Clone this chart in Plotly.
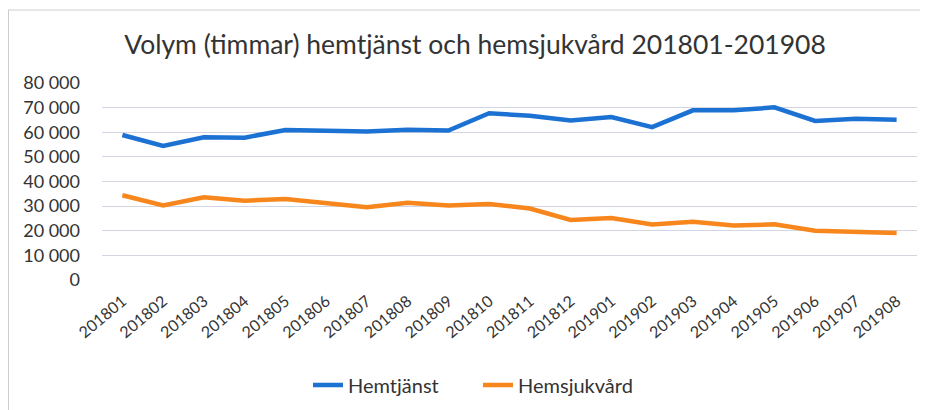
import plotly.graph_objects as go

months = ["201801", "201802", "201803", "201804", "201805", "201806", "201807",
          "201808", "201809", "201810", "201811", "201812", "201901", "201902",
          "201903", "201904", "201905", "201906", "201907", "201908"]
hemtjanst = [58900, 54400, 58000, 57800, 60900, 60400, 60300, 61000, 60700, 67700,
             66700, 64800, 66200, 62100, 68900, 68900, 70100, 64600, 65500, 65100]
hemsjukvard = [34400, 30300, 33600, 32200, 32900, 31400, 29500, 31400, 30300, 30900,
               29000, 24400, 25200, 22500, 23700, 22100, 22600, 20000, 19500, 19100]
y_ticks = [0, 10000, 20000, 30000, 40000, 50000, 60000, 70000, 80000]

FONT = "Lato, 'Open Sans', sans-serif"
TXT = "#333333"
# the page body has an 8px margin, so the figure is drawn 8px smaller and shifted
W, H = 920, 402
L, T, R, B = 94, 75, 11, 130
PW, PH = W - L - R, H - T - B

fig = go.Figure()
fig.add_trace(go.Scatter(x=months, y=hemtjanst, mode="lines", name="Hemtjänst",
                         line=dict(color="#1B72D2", width=4.5)))
fig.add_trace(go.Scatter(x=months, y=hemsjukvard, mode="lines", name="Hemsjukvård",
                         line=dict(color="#F7861C", width=4.5)))

fig.update_layout(
    width=W, height=H,
    margin=dict(l=L, r=R, t=T, b=B, autoexpand=False),
    paper_bgcolor="white", plot_bgcolor="white",
    separators=", ",
    title=dict(text="Volym (timmar) hemtjänst och hemsjukvård 201801-201908",
               x=467 / W, xanchor="center", xref="container", y=1 - 37 / H, yanchor="middle",
               font=dict(family=FONT, size=26.5, color=TXT)),
    font=dict(family=FONT, color=TXT),
    showlegend=True,
    legend=dict(orientation="h", x=(300 - L) / PW, xanchor="left",
                y=-105 / PH, yanchor="middle", entrywidth=125,
                font=dict(family=FONT, size=20, color=TXT),
                traceorder="normal"),
    xaxis=dict(type="category", range=[-0.5, 19.5], tickangle=-40, automargin=False,
               showgrid=False, showline=False, zeroline=False,
               tickfont=dict(family=FONT, size=16, color=TXT), ticks="",
               ticklabelstandoff=8),
    yaxis=dict(range=[0, 80000], tickvals=y_ticks, tickformat=",d", automargin=False,
               showgrid=True, gridcolor="#D3D6E2", gridwidth=1, zeroline=False,
               showline=False, ticks="", ticklabelstandoff=21,
               tickfont=dict(family=FONT, size=18, color=TXT)),
    shapes=[dict(type="line", xref="paper", yref="paper", x0=-L / PW, x1=-L / PW,
                 y0=-140 / PH, y1=1 + 73 / PH, line=dict(color="#BDBDBD", width=1.5)),
            dict(type="line", xref="paper", yref="paper", x0=-L / PW, x1=1.02,
                 y0=1 + 73 / PH, y1=1 + 73 / PH, line=dict(color="#D0D0D0", width=1.2))],
)

fig.write_html("out.html")
